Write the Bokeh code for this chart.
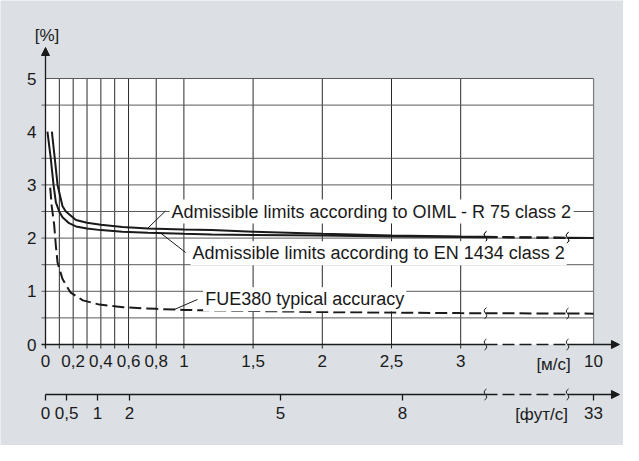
import numpy as np
from bokeh.plotting import figure
from bokeh.models import Range1d, LinearAxis, FixedTicker, Label, Arrow, NormalHead
from bokeh.embed import file_html
from bokeh.resources import INLINE

# ---------------- data ----------------
ms_ticks = [0, 0.2, 0.4, 0.6, 0.8, 1, 1.5, 2, 2.5, 3, 10]
ms_tick_labels = ["0", "0,2", "0,4", "0,6", "0,8", "1", "1,5", "2", "2,5", "3", "10"]
ms_grid = [0.1, 0.2, 0.3, 0.4, 0.5, 0.6, 0.8, 1, 1.5, 2, 2.5, 3]
pct_ticks = [0, 1, 2, 3, 4, 5]
pct_grid = [0.5, 1, 1.5, 2, 2.5, 3, 3.5, 4.5]
fts_labels = ["0", "0,5", "1", "2", "5", "8", "33"]
fts_on_ms_scale = [0, 0.152, 0.376, 0.607, 1.698, 2.58, 10]

oiml_x = [0.046, 0.067, 0.087, 0.123, 0.147, 0.22, 0.3, 0.4, 0.556, 0.74, 1.0, 1.2, 1.5, 2.0, 2.5, 3.0, 10]
oiml_y = [4.0, 3.5, 3.0, 2.6, 2.5, 2.34, 2.29, 2.25, 2.21, 2.18, 2.16, 2.15, 2.12, 2.08, 2.05, 2.03, 2.0]

en_x = [0.014, 0.038, 0.058, 0.075, 0.099, 0.123, 0.17, 0.22, 0.3, 0.4, 0.556, 0.74, 1.0, 1.2, 1.5, 2.0, 2.5, 3.0, 10]
en_y = [4.0, 3.5, 3.0, 2.67, 2.5, 2.39, 2.28, 2.22, 2.18, 2.15, 2.12, 2.1, 2.08, 2.07, 2.06, 2.05, 2.03, 2.02, 2.0]

fue_x = [0.034, 0.045, 0.063, 0.075, 0.087, 0.123, 0.18, 0.27, 0.39, 0.56, 0.8, 1.0, 1.5, 2.0, 2.5, 3.0, 10]
fue_y = [2.95, 2.6, 2.24, 1.85, 1.54, 1.23, 0.98, 0.83, 0.75, 0.70, 0.67, 0.65, 0.63, 0.61, 0.60, 0.59, 0.58]

# ---------------- layout constants ----------------
W, H = 623, 445
SX, SY = 138.4, 53.2          # px per m/s (display unit) and per %
LEFT_PX, ZERO_PX = 45, 344    # frame position of x=0 and y=0
BG = "#dce0e4"
INK = "#1a1a1a"
FONT = "Liberation Sans"

BREAK_MS, X_MAX = 3.2, 3.96   # axis is compressed after BREAK_MS, 10 m/s drawn at X_MAX
B1, B2 = 3.179, 3.772         # break marks (display units)
X_ARROW = 4.147
FTS_Y = -50 / SY


def disp(v):
    v = np.asarray(v, float)
    return np.where(v <= BREAK_MS, v, BREAK_MS + (v - BREAK_MS) * (X_MAX - BREAK_MS) / (10 - BREAK_MS))


p = figure(width=W, height=H,
           x_range=Range1d(-LEFT_PX / SX, (W - LEFT_PX) / SX),
           y_range=Range1d(-(H - ZERO_PX) / SY, ZERO_PX / SY),
           x_axis_type=None, y_axis_type=None, min_border=0,
           toolbar_location=None, output_backend="svg",
           background_fill_color=BG, border_fill_color=BG, outline_line_color=None)

x10 = float(disp(10))
top = max(pct_ticks)

# white plotting area
p.quad(left=0, right=x10, bottom=0, top=top, fill_color="white", line_color=None, level="image")

# grid
gx = disp(ms_grid)
p.segment(x0=gx, y0=-4 / SY, x1=gx, y1=top, line_color="#2a2a2a", line_width=1)
p.segment(x0=-4 / SX, y0=pct_grid, x1=x10, y1=pct_grid, line_color="#5a5a5a", line_width=1)
p.segment(x0=[0], y0=[top], x1=[x10], y1=[top], line_color="#5a5a5a", line_width=1)
p.segment(x0=[x10], y0=[0], x1=[x10], y1=[top], line_color="#7a7a7a", line_width=1.2)


def split(xs, ys):
    xd = disp(xs)
    ys = np.asarray(ys, float)
    y1 = float(np.interp(B1, xd, ys))
    y2 = float(np.interp(B2, xd, ys))
    m1 = xd < B1
    m2 = xd > B2
    return ((np.r_[xd[m1], B1], np.r_[ys[m1], y1]),
            ([B1, B2], [y1, y2]),
            (np.r_[B2, xd[m2]], np.r_[y2, ys[m2]]), y1, y2)


DASH = "12 5"
marks = []
for xs, ys, dash in [(oiml_x, oiml_y, "solid"), (en_x, en_y, "solid"), (fue_x, fue_y, DASH)]:
    s1, d, s2, y1, y2 = split(xs, ys)
    p.line(s1[0], s1[1], line_color=INK, line_width=2, line_dash=dash)
    p.line(d[0], d[1], line_color=INK, line_width=2, line_dash=DASH)
    p.line(s2[0], s2[1], line_color=INK, line_width=2, line_dash=dash)
    marks += [(B1, y1), (B2, y2)]

# axis lines (drawn with breaks)
for yl, x_start in [(0, -4 / SX), (FTS_Y, 0)]:
    p.line([x_start, B1], [yl, yl], line_color=INK, line_width=1.3)
    p.line([B1, B2], [yl, yl], line_color=INK, line_width=1.3, line_dash=DASH)
    p.add_layout(Arrow(end=NormalHead(size=8, fill_color=INK, line_color=INK),
                       x_start=B2, y_start=yl, x_end=X_ARROW, y_end=yl,
                       line_color=INK, line_width=1.3))
    marks += [(B1, yl), (B2, yl)]

p.add_layout(Arrow(end=NormalHead(size=8, fill_color=INK, line_color=INK),
                   x_start=0, y_start=-4 / SY, x_end=0, y_end=297 / SY,
                   line_color=INK, line_width=1.3))

# break marks
mx = np.array([m[0] for m in marks])
my = np.array([m[1] for m in marks])
p.bezier(x0=mx - 1 / SX, y0=my - 5.5 / SY, x1=mx + 1 / SX, y1=my + 5.5 / SY,
         cx0=mx + 6 / SX, cy0=my - 1 / SY, cx1=mx - 6 / SX, cy1=my + 1 / SY,
         line_color=INK, line_width=1)

# axes (ticks / labels)
tick_font = dict(major_label_text_font=FONT, major_label_text_font_size="17px",
                 major_label_text_color=INK)
xt = [float(v) for v in disp(ms_ticks)]
xax = LinearAxis(fixed_location=0, ticker=FixedTicker(ticks=xt),
                 major_label_overrides={t: l for t, l in zip(xt, ms_tick_labels)},
                 axis_line_color=None, major_tick_out=0, major_tick_in=0,
                 minor_tick_out=0, minor_tick_in=0, major_label_standoff=10, **tick_font)
p.add_layout(xax, "below")

ft = [float(v) for v in disp(fts_on_ms_scale)]
fax = LinearAxis(fixed_location=FTS_Y, ticker=FixedTicker(ticks=ft),
                 major_label_overrides={t: l for t, l in zip(ft, fts_labels)},
                 axis_line_color=None, major_tick_out=6, major_tick_in=0,
                 major_tick_line_color=INK, major_tick_line_width=1.3,
                 minor_tick_out=0, minor_tick_in=0, major_label_standoff=6, **tick_font)
p.add_layout(fax, "below")

yax = LinearAxis(fixed_location=0, ticker=FixedTicker(ticks=pct_ticks),
                 axis_line_color=None, major_tick_out=0, major_tick_in=0,
                 minor_tick_out=0, minor_tick_in=0, major_label_standoff=9, **tick_font)
p.add_layout(yax, "left")

# unit labels
lab = dict(text_font=FONT, text_font_size="17px", text_color=INK,
           text_align="center", text_baseline="middle")
p.add_layout(Label(x=0.011, y=5.81, text="[%]", **lab))
p.add_layout(Label(x=3.671, y=-0.376, text="[м/с]", **lab))
p.add_layout(Label(x=3.584, y=-1.316, text="[фут/с]", **lab))

# annotations with leader lines
ann = [
    ("Admissible limits according to OIML - R 75 class 2", 0.896, 2.5, (0.867, 2.51), (0.737, oiml_x, oiml_y)),
    ("Admissible limits according to EN 1434 class 2", 1.048, 1.716, (1.012, 1.73), (0.833, en_x, en_y)),
    ("FUE380 typical accuracy", 1.139, 0.85, (1.098, 0.846), (0.93, fue_x, fue_y)),
]
for text, tx, ty, (sx, sy), (ex, cx, cy) in ann:
    ey = float(np.interp(ex, cx, cy))
    p.line([sx, ex], [sy, ey], line_color=INK, line_width=1)
    p.add_layout(Label(x=tx, y=ty, text=text, text_font=FONT, text_font_size="18px",
                       text_color=INK, text_baseline="middle", text_align="left",
                       background_fill_color="white", padding=2))

open("out.html", "w").write(file_html(p, INLINE))
